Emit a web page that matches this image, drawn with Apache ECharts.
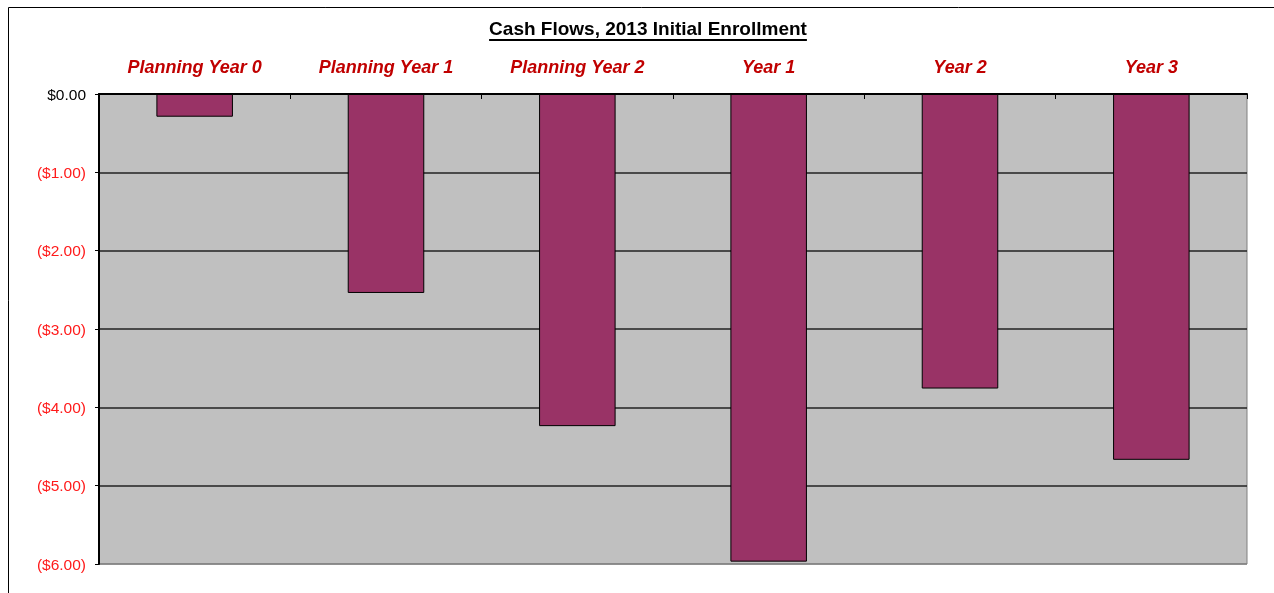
<!DOCTYPE html>
<html>
<head>
<meta charset="utf-8">
<script src="https://cdn.jsdelivr.net/npm/echarts@6/dist/echarts.min.js"></script>
<style>
  html, body { margin: 0; padding: 0; background: #fff; }
  #chart { width: 1274px; height: 593px; }
</style>
</head>
<body>
<div id="chart"></div>
<script>
// Cash flow per period (dollars, negative = outflow)
const categories = ['Planning Year 0', 'Planning Year 1', 'Planning Year 2', 'Year 1', 'Year 2', 'Year 3'];
const cashFlows = [-0.29, -2.54, -4.24, -5.97, -3.76, -4.67];
const yTicks = [0, -1, -2, -3, -4, -5, -6];
const titleText = 'Cash Flows, 2013 Initial Enrollment';

const FONT = 'Arial, "Liberation Sans", sans-serif';
const titleFont = 'bold 19px ' + FONT;

function moneyLabel(v) {
  const s = '$' + Math.abs(v).toFixed(2);
  return v < 0 ? '(' + s + ')' : s;
}

// width of the title, used for its underline
const ctx = document.createElement('canvas').getContext('2d');
ctx.font = titleFont;
const titleWidth = ctx.measureText(titleText).width;
const titleCenter = 648;

const chart = echarts.init(document.getElementById('chart'), null, { renderer: 'canvas' });

chart.setOption({
  animation: false,
  backgroundColor: '#ffffff',
  graphic: [
    {
      type: 'rect', z: -10, silent: true,
      shape: { x: 8.5, y: 7.5, width: 1300, height: 620 },
      style: { fill: 'none', stroke: '#000', lineWidth: 1 }
    },
    {
      type: 'text', x: titleCenter, y: 30, silent: true,
      style: {
        text: titleText, font: titleFont, fill: '#000',
        textAlign: 'center', textVerticalAlign: 'middle'
      }
    },
    {
      type: 'line', silent: true,
      shape: { x1: titleCenter - titleWidth / 2, y1: 40, x2: titleCenter + titleWidth / 2, y2: 40 },
      style: { stroke: '#000', lineWidth: 2 }
    }
  ],
  grid: {
    left: 99, right: 27, top: 94, bottom: 29,
    show: true, backgroundColor: '#c0c0c0', borderColor: '#808080', borderWidth: 1,
    containLabel: false
  },
  xAxis: {
    type: 'category',
    position: 'top',
    data: categories,
    axisLine: { show: true, lineStyle: { color: '#000', width: 2 } },
    axisTick: { show: true, inside: true, length: 5, lineStyle: { color: '#000', width: 1 } },
    axisLabel: {
      margin: 17, interval: 0,
      color: '#c00000', fontFamily: FONT, fontSize: 18, fontWeight: 'bold', fontStyle: 'italic'
    },
    splitLine: { show: false }
  },
  yAxis: {
    type: 'value',
    min: -6, max: 0, interval: 1,
    axisLine: { show: true, lineStyle: { color: '#000', width: 2 } },
    axisTick: { show: true, length: 4, lineStyle: { color: '#000', width: 1 } },
    axisLabel: {
      margin: 13,
      fontFamily: FONT, fontSize: 15.5,
      formatter: function (v) {
        return (v < 0 ? '{neg|' : '{pos|') + moneyLabel(v) + '}';
      },
      rich: {
        neg: { color: '#ff1a1a', fontFamily: FONT, fontSize: 15.5, padding: [3, 0, 0, 0] },
        pos: { color: '#000000', fontFamily: FONT, fontSize: 15.5, padding: [3, 0, 0, 0] }
      }
    },
    splitLine: {
      show: true,
      lineStyle: {
        color: ['#808080', '#222222', '#222222', '#222222', '#222222', '#222222', '#222222'],
        width: 1.5
      }
    }
  },
  series: [{
    type: 'bar',
    data: cashFlows,
    barWidth: '40%',
    itemStyle: { color: '#993366', borderColor: '#000', borderWidth: 1 }
  }]
});
</script>
</body>
</html>
